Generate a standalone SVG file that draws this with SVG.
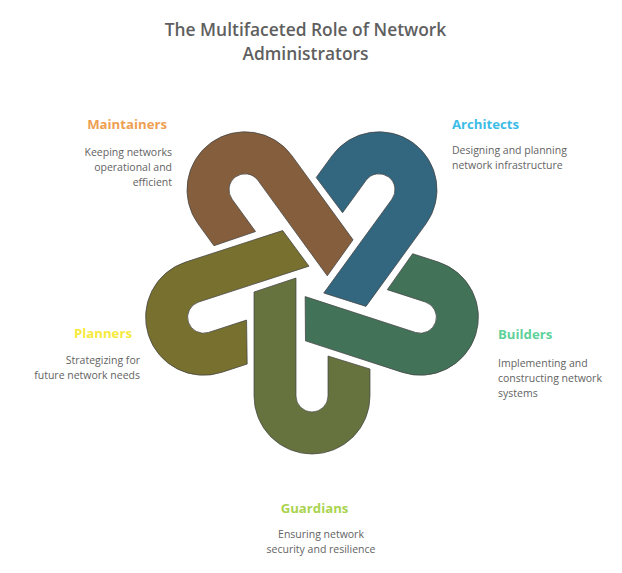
<svg xmlns="http://www.w3.org/2000/svg" width="622" height="573" viewBox="0 0 622 573">
<style>
.t{font-family:"Open Sans","Noto Sans",sans-serif;font-weight:600;font-size:17.4px;fill:#5f5f5f;text-anchor:middle}
.h{font-family:"Open Sans","Noto Sans",sans-serif;font-weight:700;font-size:13.2px}
.d{font-family:"Open Sans","Noto Sans",sans-serif;font-size:10.5px;fill:#636363}
.e{text-anchor:end}.m{text-anchor:middle}
.s{stroke:#444;stroke-width:.7}
</style>
<defs>
<path id="link" d="M254 292L296 278V396A16 16 0 0 0 328 396V356L370 369V396A58 58 0 0 1 254 396Z"/>
<path id="link-short" d="M254 294L296 280V396A16 16 0 0 0 328 396V356L370 369V396A58 58 0 0 1 254 396Z"/>
</defs>
<rect width="622" height="573" fill="#fff"/>
<g id="title"><text class="t" x="305.5" y="36">The Multifaceted Role of Network</text><text class="t" x="305.5" y="60">Administrators</text></g>
<g id="guardians"><use href="#link" class="s" fill="#66733f"/><text class="h m" x="314.5" y="513" fill="#aad44f">Guardians</text><text class="d m" x="321" y="538">Ensuring network</text><text class="d m" x="321" y="553">security and resilience</text></g>
<g id="planners"><use href="#link-short" class="s" fill="#78702f" transform="rotate(72 312 282)"/><text class="h" x="74" y="338" fill="#f5ea3c">Planners</text><text class="d e" x="140" y="364">Strategizing for</text><text class="d e" x="140" y="379">future network needs</text></g>
<g id="maintainers"><use href="#link" class="s" fill="#855f3d" transform="rotate(144 312 282)"/><text class="h e" x="167" y="129" fill="#ee9f52">Maintainers</text><text class="d e" x="172" y="156">Keeping networks</text><text class="d e" x="172" y="171">operational and</text><text class="d e" x="172" y="186">efficient</text></g>
<g id="architects"><use href="#link-short" class="s" fill="#33667f" transform="rotate(216 312 282)"/><text class="h" x="452" y="129" fill="#3dbce6">Architects</text><text class="d" x="452" y="154">Designing and planning</text><text class="d" x="452" y="169">network infrastructure</text></g>
<g id="builders"><use href="#link-short" class="s" fill="#427359" transform="rotate(288 312 282)"/><text class="h" x="498" y="339" fill="#5fd19a">Builders</text><text class="d" x="498" y="367">Implementing and</text><text class="d" x="498" y="382">constructing network</text><text class="d" x="498" y="397">systems</text></g>
</svg>
